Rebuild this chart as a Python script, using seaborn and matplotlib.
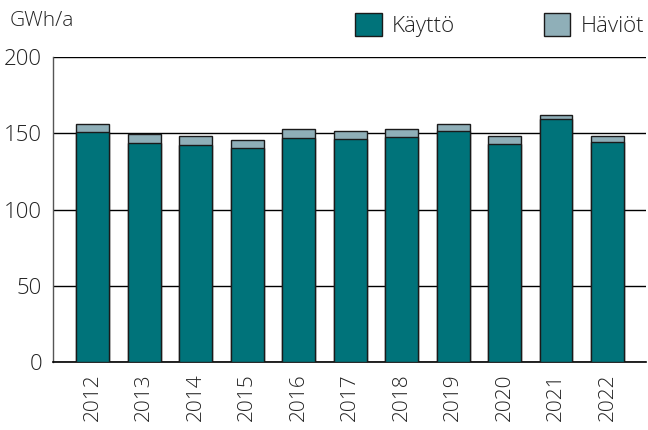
import pandas as pd
import seaborn as sns
import matplotlib
matplotlib.use('Agg')
import matplotlib.pyplot as plt
from matplotlib.patches import Patch

years = ["2012", "2013", "2014", "2015", "2016", "2017",
         "2018", "2019", "2020", "2021", "2022"]
kaytto = [150.6, 144.0, 142.3, 140.1, 147.3, 146.5, 147.8, 151.5, 143.0, 159.3, 144.4]
haviot = [5.3, 5.5, 5.7, 5.9, 5.3, 5.4, 5.0, 4.8, 5.0, 2.5, 3.8]

df = pd.DataFrame({"year": years, "kaytto": kaytto, "haviot": haviot})
df["total"] = df["kaytto"] + df["haviot"]

sns.set_style("white")
plt.rcParams['font.family'] = ['Open Sans', 'DejaVu Sans']

col_kaytto = "#00737A"
col_haviot = "#8FAFB8"
edge = "#1a1a1a"

fig = plt.figure(figsize=(6.48, 4.30), dpi=100)
ax = fig.add_axes([0.082, 0.158, 0.915, 0.709])

# total bar first (Häviöt shows above), then Käyttö over it
sns.barplot(data=df, x="year", y="total", color=col_haviot, edgecolor=edge,
            linewidth=1.0, width=0.64, saturation=1, ax=ax, zorder=2)
sns.barplot(data=df, x="year", y="kaytto", color=col_kaytto, edgecolor=edge,
            linewidth=1.0, width=0.64, saturation=1, ax=ax, zorder=3)

ax.set_ylim(0, 200)
ax.set_xlim(-0.77, 10.75)
ax.set_yticks([0, 50, 100, 150, 200])
ax.yaxis.grid(True, color="black", linewidth=1.0, zorder=0)
ax.set_axisbelow(True)
ax.set_xlabel("")
ax.set_ylabel("")
for s in ["top", "right"]:
    ax.spines[s].set_visible(False)
ax.spines["left"].set_color("#555555")
ax.spines["left"].set_linewidth(1.0)
ax.spines["bottom"].set_color("black")
ax.spines["bottom"].set_linewidth(1.2)
ax.tick_params(axis="both", length=0)
ax.tick_params(axis="y", pad=8, labelsize=16)
ax.tick_params(axis="x", pad=8, labelsize=15, rotation=90)
for lab in ax.get_xticklabels() + ax.get_yticklabels():
    lab.set_fontweight("light")
    lab.set_color("#222222")

fig.text(10 / 648, 1 - 21 / 430, "GWh/a", fontsize=15, fontweight="light",
         color="#222222", va="center", ha="left")

handles = [Patch(facecolor=col_kaytto, edgecolor=edge, label="Käyttö"),
           Patch(facecolor=col_haviot, edgecolor=edge, label="Häviöt")]
leg = fig.legend(handles=handles, loc="center left", ncol=2,
                 bbox_to_anchor=(355 / 648, 1 - 25 / 430), frameon=False,
                 fontsize=16, handlelength=1.2, handleheight=1.2,
                 handletextpad=0.45, columnspacing=4.0, borderpad=0,
                 borderaxespad=0)
for t in leg.get_texts():
    t.set_fontweight("light")
    t.set_color("#222222")

fig.savefig("out.png", dpi=100)
